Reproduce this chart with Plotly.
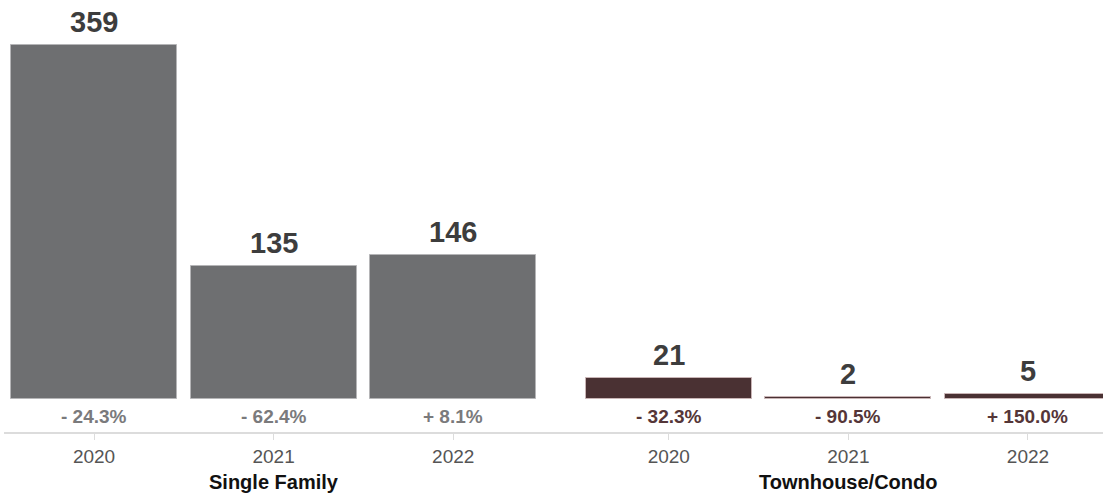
import plotly.graph_objects as go

# Data
groups = ["Single Family", "Townhouse/Condo"]
years = ["2020", "2021", "2022"]
single_family = [359, 135, 146]
townhouse_condo = [21, 2, 5]
sf_change = ["- 24.3%", "- 62.4%", "+ 8.1%"]
tc_change = ["- 32.3%", "- 90.5%", "+ 150.0%"]

series = [
    (single_family, sf_change, "#6e6f71", "#7a7a7c", "#b5b5b7"),
    (townhouse_condo, tc_change, "#4a3133", "#553638", "#c9b5b6"),
]

GROUP_STEP = 3.2   # distance between the first bars of consecutive groups
BAR_W = 0.924

fig = go.Figure()
tickvals, ticktext = [], []
annotations = []

for g, (vals, changes, color, pct_color, edge) in enumerate(series):
    xs = [g * GROUP_STEP + i for i in range(len(years))]
    fig.add_trace(go.Bar(
        x=xs, y=vals, width=BAR_W,
        marker=dict(color=color, line=dict(color=edge, width=1)),
        hoverinfo="skip", showlegend=False,
    ))
    tickvals += xs
    ticktext += years
    for x, v, c in zip(xs, vals, changes):
        annotations.append(dict(
            x=x, y=v, text=f"<b>{v}</b>", showarrow=False,
            yanchor="bottom", yshift=5,
            font=dict(size=29, color="#3d3d3d"),
        ))
        annotations.append(dict(
            x=x, y=0, text=f"<b>{c}</b>", showarrow=False,
            yanchor="middle", yshift=-17,
            font=dict(size=19, color=pct_color),
        ))
    annotations.append(dict(
        x=xs[1], y=0, yref="paper", text=f"<b>{groups[g]}</b>",
        showarrow=False, yanchor="middle", yshift=-50,
        font=dict(size=20, color="#111111"),
    ))

fig.update_layout(
    width=1103, height=496,
    margin=dict(l=4, r=0, t=0, b=64),
    paper_bgcolor="white", plot_bgcolor="white",
    font=dict(family="Liberation Sans, Arial, sans-serif"),
    bargap=0,
    annotations=annotations,
    xaxis=dict(
        range=[-0.5012, 5.6176],
        tickmode="array", tickvals=tickvals, ticktext=ticktext,
        showgrid=False, zeroline=False,
        showline=True, linecolor="#dcdcdc", linewidth=2,
        ticks="outside", ticklen=6, tickcolor="#dcdcdc", tickwidth=1,
        tickfont=dict(size=19, color="#555555"),
        fixedrange=True,
    ),
    yaxis=dict(
        range=[-33.4, 404.5],
        visible=False, showgrid=False, zeroline=False,
        fixedrange=True,
    ),
)

fig.write_html("out.html")
